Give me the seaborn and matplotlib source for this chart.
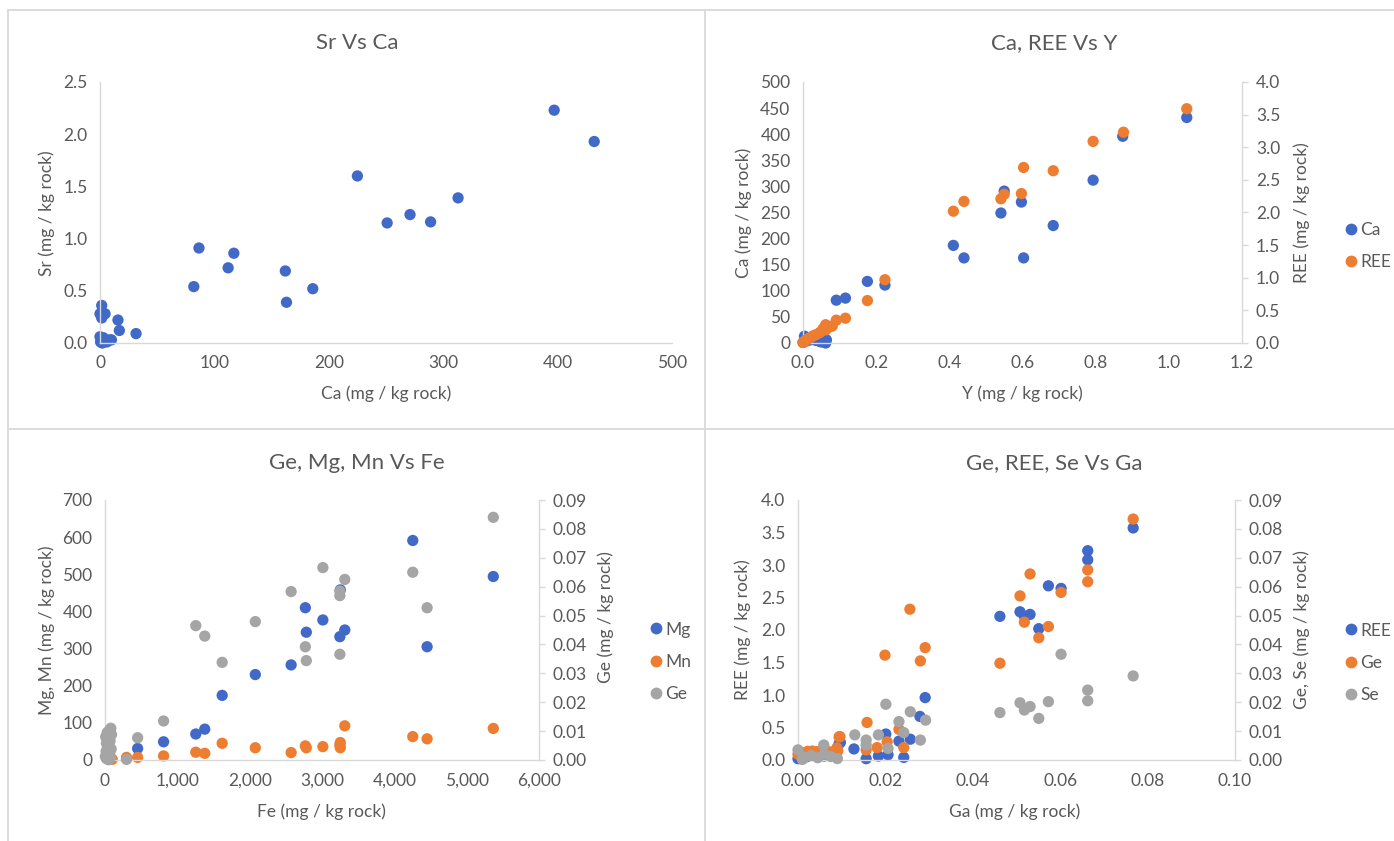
import matplotlib
matplotlib.use("Agg")
import matplotlib.pyplot as plt
from matplotlib.lines import Line2D
from matplotlib.ticker import FuncFormatter, MultipleLocator
import seaborn as sns
import pandas as pd

# ---------------- data ----------------
# Panel 1: Sr vs Ca
p1_ca = [397, 432, 225, 313, 271, 289, 251, 86.5, 117, 112, 162, 82, 186, 163,
         31.5, 15.7, 16.9, 1.5, 0, 4.4, 1.5, 0, 3, 8.7, 0.5, 5, 2, 10, 6]
p1_sr = [2.23, 1.93, 1.60, 1.39, 1.23, 1.16, 1.15, 0.91, 0.86, 0.72, 0.69, 0.54, 0.52, 0.39,
         0.09, 0.22, 0.12, 0.36, 0.28, 0.28, 0.24, 0.06, 0.05, 0.03, 0.01, 0.02, 0.0, 0.03, 0.01]

# Panel 2: Ca, REE vs Y
p2_y_ca = [1.049, 0.874, 0.793, 0.550, 0.541, 0.597, 0.684, 0.411, 0.440, 0.603, 0.224, 0.176,
           0.091, 0.116, 0.004, 0.020, 0.046, 0.062, 0.064, 0.010, 0.035, 0.050, 0.0]
p2_ca = [432, 396, 312, 291, 249, 270, 225, 187, 163, 163, 111, 118,
         82, 86, 13, 6, 3, 0, 6, 4, 5, 2, 1]
p2_y_ree = [1.049, 0.876, 0.793, 0.603, 0.684, 0.597, 0.550, 0.541, 0.440, 0.411, 0.224, 0.176,
            0.116, 0.091, 0.080, 0.062, 0.062, 0.046, 0.036, 0.022, 0.010, 0.0, 0.015, 0.028,
            0.055, 0.070, 0.005]
p2_ree = [3.59, 3.23, 3.09, 2.69, 2.64, 2.29, 2.28, 2.21, 2.17, 2.02, 0.97, 0.65,
          0.38, 0.35, 0.26, 0.28, 0.20, 0.16, 0.13, 0.09, 0.05, 0.01, 0.07, 0.11,
          0.22, 0.24, 0.03]

# Panel 3: Ge, Mg, Mn vs Fe
p3_fe_mg = [4255, 5368, 2770, 3012, 3253, 2783, 3315, 3247, 4453, 2573, 2078, 1620,
            1379, 1255, 810, 451, 40, 70, 20]
p3_mg = [591, 494, 410, 377, 458, 344, 350, 332, 305, 256, 230, 174,
         83, 70, 49, 31, 12, 8, 5]
p3_fe_mn = [3315, 5368, 4255, 4453, 1620, 2078, 2573, 2783, 2770, 3012, 3253, 3253, 3247,
            1255, 1379, 810, 451, 297, 50, 100]
p3_mn = [92, 85, 63, 57, 45, 33, 20, 33, 38, 36, 47, 33, 40,
         21, 18, 11, 7, 7, 3, 2]
p3_fe_ge = [5368, 3012, 4255, 3315, 2573, 3247, 3247, 4453, 2078, 1255, 1379, 2770, 3247,
            1620, 2783, 810, 451, 297,
            80, 60, 30, 90, 10, 45, 70, 20, 55, 35, 85, 15, 65, 40, 5, 75, 25, 50]
p3_ge = [0.0840, 0.0666, 0.0650, 0.0625, 0.0583, 0.0585, 0.0569, 0.0527, 0.0479, 0.0465,
         0.0429, 0.0392, 0.0366, 0.0338, 0.0344, 0.0135, 0.0077, 0.0002,
         0.0110, 0.0102, 0.0095, 0.0088, 0.0080, 0.0072, 0.0066, 0.0058, 0.0050, 0.0044,
         0.0038, 0.0030, 0.0024, 0.0018, 0.0012, 0.0008, 0.0004, 0.0001]

# Panel 4: Ge, REE, Se vs Ga
p4_ga_ree = [0.0767, 0.0663, 0.0663, 0.0573, 0.0602, 0.0462, 0.0508, 0.0531, 0.0518, 0.0551,
             0.0291, 0.0279, 0.0201, 0.0231, 0.0257, 0.0128, 0.0156, 0.0184, 0.0206, 0.0242,
             0.0097, 0.0094, 0.002, 0.004, 0.006, 0.008, 0.0]
p4_ree = [3.57, 3.22, 3.08, 2.68, 2.64, 2.21, 2.28, 2.24, 2.21, 2.02,
          0.96, 0.67, 0.40, 0.29, 0.32, 0.17, 0.02, 0.06, 0.08, 0.04,
          0.27, 0.25, 0.05, 0.08, 0.06, 0.10, 0.02]
p4_ga_ge = [0.0767, 0.0663, 0.0663, 0.0531, 0.0508, 0.0602, 0.0518, 0.0573, 0.0551, 0.0256,
            0.0199, 0.0291, 0.0280, 0.0462, 0.0158, 0.0231, 0.0096, 0.0204, 0.0181, 0.0242,
            0.0156, 0.0089, 0.0094,
            0.0011, 0.0022, 0.0033, 0.0045, 0.0056, 0.0068, 0.0080, 0.0091, 0.0]
p4_ge = [0.0834, 0.0658, 0.0617, 0.0644, 0.0568, 0.0580, 0.0477, 0.0462, 0.0423, 0.0522,
         0.0363, 0.0389, 0.0343, 0.0335, 0.0130, 0.0106, 0.0081, 0.0063, 0.0043, 0.0043,
         0.0035, 0.0042, 0.0080,
         0.0025, 0.0030, 0.0031, 0.0029, 0.0032, 0.0030, 0.0028, 0.0031, 0.0020]
p4_ga_se = [0.0767, 0.0602, 0.0663, 0.0663, 0.0573, 0.0508, 0.0531, 0.0518, 0.0462, 0.0551,
            0.0201, 0.0257, 0.0231, 0.0292, 0.0242, 0.0130, 0.0184, 0.0156, 0.0156, 0.0280,
            0.0206, 0.0059, 0.0, 0.0015, 0.003, 0.0045, 0.0075, 0.009, 0.001, 0.006]
p4_se = [0.0291, 0.0366, 0.0242, 0.0205, 0.0202, 0.0198, 0.0185, 0.0173, 0.0164, 0.0144,
         0.0193, 0.0167, 0.0133, 0.0138, 0.0095, 0.0087, 0.0087, 0.0069, 0.0052, 0.0069,
         0.0040, 0.0052, 0.0035, 0.0010, 0.0015, 0.0008, 0.0012, 0.0005, 0.0002, 0.0020]

# ---------------- style ----------------
sns.set_style("white")
plt.rcParams['font.family'] = ['Lato', 'DejaVu Sans']

BLUE = "#4169C8"
ORANGE = "#ED7D31"
GRAY = "#A5A5A5"
TXT = "#595959"
SPINE = "#D9D9D9"
MS = 66
TICK_FS = 12.5
LABEL_FS = 12.5
TITLE_FS = 16

W, H = 1394, 841
fig = plt.figure(figsize=(W / 100, H / 100), dpi=100)
fig.patch.set_facecolor("white")


def add_ax(x0, x1, ytop, ybot):
    return fig.add_axes([x0 / W, (H - ybot) / H, (x1 - x0) / W, (ybot - ytop) / H])


def style(ax, right=False):
    for s in ["top", "right", "left", "bottom"]:
        ax.spines[s].set_visible(False)
    if right:
        ax.spines["right"].set_visible(True)
        ax.spines["right"].set_color(SPINE)
        ax.spines["right"].set_linewidth(1.0)
        ax.tick_params(axis="y", which="both", right=True, length=4, width=1.0,
                       color=SPINE, pad=6, labelsize=TICK_FS, labelcolor=TXT)
    else:
        ax.spines["left"].set_visible(True)
        ax.spines["bottom"].set_visible(True)
        for s in ["left", "bottom"]:
            ax.spines[s].set_color(SPINE)
            ax.spines[s].set_linewidth(1.0)
        ax.tick_params(axis="both", which="both", length=0, pad=9, labelsize=TICK_FS,
                       labelcolor=TXT)
    ax.set_xlabel("")
    ax.set_ylabel("")
    ax.patch.set_alpha(0)


def scat(ax, x, y, color, label=None):
    df = pd.DataFrame({"x": x, "y": y})
    sns.scatterplot(data=df, x="x", y="y", ax=ax, color=color, s=MS,
                    edgecolor="none", linewidth=0, label=label, legend=False,
                    clip_on=False)


def fmt(decimals, comma=False):
    if comma:
        return FuncFormatter(lambda v, p: f"{v:,.0f}")
    return FuncFormatter(lambda v, p: f"{v:.{decimals}f}")


def legend(entries, xpix, ycpix):
    handles = [Line2D([0], [0], marker="o", linestyle="none", markersize=8.5,
                      markerfacecolor=c, markeredgecolor="none") for _, c in entries]
    labels = [l for l, _ in entries]
    leg = fig.legend(handles, labels, loc="center left",
                     bbox_to_anchor=(xpix / W, (H - ycpix) / H),
                     frameon=False, fontsize=TICK_FS, handletextpad=0.05,
                     labelspacing=0.95, handlelength=1.0, borderaxespad=0,
                     borderpad=0)
    for t in leg.get_texts():
        t.set_color(TXT)


def ftext(x, y, s, size=LABEL_FS, rot=0):
    fig.text(x / W, (H - y) / H, s, ha="center", va="center", rotation=rot,
             fontsize=size, color=TXT)


# ---------------- Panel 1 ----------------
ax1 = add_ax(100, 672, 82, 343)
scat(ax1, p1_ca, p1_sr, BLUE)
ax1.set_xlim(0, 500)
ax1.set_ylim(0, 2.5)
ax1.xaxis.set_major_locator(MultipleLocator(100))
ax1.yaxis.set_major_locator(MultipleLocator(0.5))
ax1.yaxis.set_major_formatter(fmt(1))
style(ax1)
ftext(357, 43, "Sr Vs Ca", size=TITLE_FS)
ftext(386, 394, "Ca (mg / kg rock)")
ftext(47, 213, "Sr (mg / kg rock)", rot=90)

# ---------------- Panel 2 ----------------
ax2 = add_ax(803, 1242, 82, 343)
ax2r = ax2.twinx()
scat(ax2, p2_y_ca, p2_ca, BLUE)
scat(ax2r, p2_y_ree, p2_ree, ORANGE)
ax2.set_xlim(0, 1.2)
ax2.set_ylim(0, 500)
ax2r.set_ylim(0, 4.0)
ax2.xaxis.set_major_locator(MultipleLocator(0.2))
ax2.xaxis.set_major_formatter(fmt(1))
ax2.yaxis.set_major_locator(MultipleLocator(50))
ax2r.yaxis.set_major_locator(MultipleLocator(0.5))
ax2r.yaxis.set_major_formatter(fmt(1))
style(ax2)
style(ax2r, right=True)
ftext(1054, 43, "Ca, REE Vs Y", size=TITLE_FS)
ftext(1022, 394, "Y (mg / kg rock)")
ftext(744, 213, "Ca (mg / kg rock)", rot=90)
ftext(1302, 213, "REE (mg / kg rock)", rot=90)
legend([("Ca", BLUE), ("REE", ORANGE)], 1342, 246)

# ---------------- Panel 3 ----------------
ax3 = add_ax(105, 539, 500, 760)
ax3r = ax3.twinx()
scat(ax3, p3_fe_mg, p3_mg, BLUE)
scat(ax3, p3_fe_mn, p3_mn, ORANGE)
scat(ax3r, p3_fe_ge, p3_ge, GRAY)
ax3.set_xlim(0, 6000)
ax3.set_ylim(0, 700)
ax3r.set_ylim(0, 0.09)
ax3.xaxis.set_major_locator(MultipleLocator(1000))
ax3.xaxis.set_major_formatter(fmt(0, comma=True))
ax3.yaxis.set_major_locator(MultipleLocator(100))
ax3r.yaxis.set_major_locator(MultipleLocator(0.01))
ax3r.yaxis.set_major_formatter(fmt(2))
style(ax3)
style(ax3r, right=True)
ftext(357, 463, "Ge, Mg, Mn Vs Fe", size=TITLE_FS)
ftext(321, 812, "Fe (mg / kg rock)")
ftext(47, 630, "Mg, Mn (mg / kg rock)", rot=90)
ftext(606, 617, "Ge (mg / kg rock)", rot=90)
legend([("Mg", BLUE), ("Mn", ORANGE), ("Ge", GRAY)], 647, 662)

# ---------------- Panel 4 ----------------
ax4 = add_ax(798, 1235, 500, 760)
ax4r = ax4.twinx()
scat(ax4, p4_ga_ree, p4_ree, BLUE)
scat(ax4r, p4_ga_ge, p4_ge, ORANGE)
scat(ax4r, p4_ga_se, p4_se, GRAY)
ax4.set_xlim(0, 0.10)
ax4.set_ylim(0, 4.0)
ax4r.set_ylim(0, 0.09)
ax4.xaxis.set_major_locator(MultipleLocator(0.02))
ax4.xaxis.set_major_formatter(fmt(2))
ax4.yaxis.set_major_locator(MultipleLocator(0.5))
ax4.yaxis.set_major_formatter(fmt(1))
ax4r.yaxis.set_major_locator(MultipleLocator(0.01))
ax4r.yaxis.set_major_formatter(fmt(2))
style(ax4)
style(ax4r, right=True)
ftext(1054, 463, "Ge, REE, Se Vs Ga", size=TITLE_FS)
ftext(1015, 812, "Ga (mg / kg rock)")
ftext(743, 630, "REE (mg / kg rock)", rot=90)
ftext(1302, 630, "Ge, Se (mg / kg rock)", rot=90)
legend([("REE", BLUE), ("Ge", ORANGE), ("Se", GRAY)], 1342, 663)

# ---------------- panel borders ----------------
def hline(y, x0, x1):
    fig.add_artist(Line2D([x0 / W, x1 / W], [(H - y) / H, (H - y) / H],
                          transform=fig.transFigure, color=SPINE, linewidth=1.3))


def vline(x, y0, y1):
    fig.add_artist(Line2D([x / W, x / W], [(H - y0) / H, (H - y1) / H],
                          transform=fig.transFigure, color=SPINE, linewidth=1.3))


hline(10, 8, W)
hline(429, 8, W)
vline(8, 10, H)
vline(705, 10, H)

fig.savefig("out.png", dpi=100, facecolor="white")
